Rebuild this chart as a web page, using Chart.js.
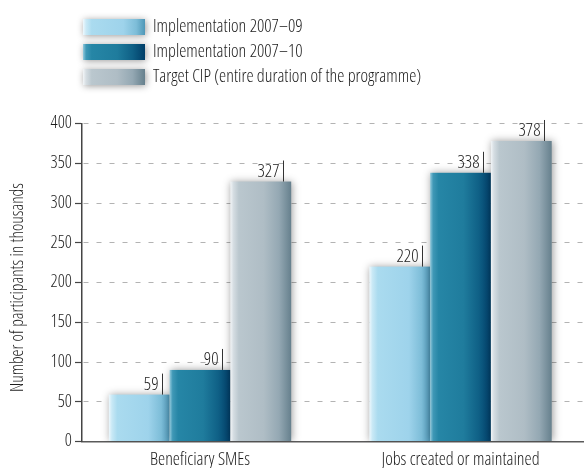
<!DOCTYPE html>
<html><head><meta charset="utf-8">
<script src="https://cdn.jsdelivr.net/npm/chart.js@4/dist/chart.umd.min.js"></script>
<style>html,body{margin:0;padding:0;background:#fff;overflow:hidden}#wrap{width:584px;height:468px;position:relative}</style>
</head><body><div id="wrap"><canvas id="c" width="584" height="468"></canvas></div>
<script>
// ---- data ----
const categories = ['Beneficiary SMEs', 'Jobs created or maintained'];
const seriesNames = ['Implementation 2007\u201309', 'Implementation 2007\u201310', 'Target CIP (entire duration of the programme)'];
const impl0709 = [59, 220];
const impl0710 = [90, 338];
const targetCIP = [327, 378];
const yTickValues = [0, 50, 100, 150, 200, 250, 300, 350, 400];
const yAxisTitle = 'Number of participants in thousands';

// ---- style ----
const FONT = '"Open Sans", "DejaVu Sans Condensed", sans-serif';
const WEIGHT = '300';
const TXT = '#1c1c1c';
const gradStops = [
  [[0,'#eef8fd'],[0.05,'#c9e9f6'],[0.14,'#aadbef'],[0.65,'#9ed3eb'],[0.86,'#7dbdd8'],[1,'#4f97b7']],
  [[0,'#93cadd'],[0.05,'#3f98b6'],[0.14,'#2686a6'],[0.55,'#1f7c9d'],[0.8,'#0f6086'],[1,'#003e68']],
  [[0,'#f2f5f7'],[0.05,'#d5dde2'],[0.14,'#bac7ce'],[0.55,'#afbdc5'],[0.8,'#94a8b3'],[1,'#66808d']]
];
const seriesData = [impl0709, impl0710, targetCIP];

function setFont(ctx, size) {
  ctx.font = WEIGHT + ' ' + size + 'px ' + FONT;
  try { ctx.fontStretch = 'condensed'; } catch (e) {}
}
function makeGrad(ctx, x0, x1, stops) {
  const g = ctx.createLinearGradient(x0, 0, x1, 0);
  stops.forEach(s => g.addColorStop(s[0], s[1]));
  return g;
}

const barPainter = {
  id: 'barPainter',
  afterDatasetsDraw(chart) {
    const ctx = chart.ctx;
    const area = chart.chartArea;
    ctx.save();
    ctx.beginPath();
    ctx.rect(area.left, 0, area.right - area.left, area.bottom);
    ctx.clip();
    chart.data.datasets.forEach((ds, di) => {
      const meta = chart.getDatasetMeta(di);
      meta.data.forEach(el => {
        const p = el.getProps(['x', 'y', 'base', 'width'], true);
        const l = p.x - p.width / 2, r = p.x + p.width / 2;
        ctx.save();
        ctx.shadowColor = 'rgba(0,0,0,0.4)';
        ctx.shadowBlur = 8;
        ctx.shadowOffsetX = 1;
        ctx.shadowOffsetY = 0;
        ctx.fillStyle = makeGrad(ctx, l, r, gradStops[di]);
        ctx.fillRect(l, p.y, r - l, p.base - p.y);
        ctx.restore();
      });
    });
    ctx.restore();
    // value labels
    ctx.save();
    chart.data.datasets.forEach((ds, di) => {
      const meta = chart.getDatasetMeta(di);
      meta.data.forEach((el, i) => {
        const p = el.getProps(['x', 'y', 'width'], true);
        const lx = Math.round(p.x + p.width / 2 - 8) + 0.5;
        ctx.strokeStyle = '#333';
        ctx.lineWidth = 1;
        ctx.beginPath();
        ctx.moveTo(lx, p.y);
        ctx.lineTo(lx, p.y - 21);
        ctx.stroke();
        ctx.fillStyle = TXT;
        setFont(ctx, 18);
        ctx.textAlign = 'right';
        ctx.textBaseline = 'alphabetic';
        ctx.fillText(String(ds.data[i].y), lx - 4, p.y - 5);
      });
    });
    ctx.restore();
  }
};

const legendPainter = {
  id: 'legendPainter',
  afterDraw(chart) {
    const ctx = chart.ctx;
    ctx.save();
    chart.data.datasets.forEach((ds, di) => {
      const top = 19 + di * 25, h = 16, l = 83, w = 62;
      ctx.save();
      ctx.shadowColor = 'rgba(0,0,0,0.4)';
      ctx.shadowBlur = 7;
      ctx.shadowOffsetX = 1;
      ctx.shadowOffsetY = 1;
      ctx.fillStyle = makeGrad(ctx, l, l + w, gradStops[di]);
      ctx.fillRect(l, top, w, h);
      ctx.restore();
      ctx.fillStyle = TXT;
      setFont(ctx, 18);
      ctx.textAlign = 'left';
      ctx.textBaseline = 'middle';
      ctx.fillText(ds.label, 153, top + h / 2);
    });
    ctx.restore();
  }
};

// y-axis title drawn through the y scale's geometry
const yTitlePainter = {
  id: 'yTitlePainter',
  afterDraw(chart) {
    const ctx = chart.ctx, ys = chart.scales.y;
    ctx.save();
    ctx.translate(18, (ys.top + ys.bottom) / 2 + 5);
    ctx.rotate(-Math.PI / 2);
    ctx.fillStyle = TXT;
    setFont(ctx, 17.5);
    ctx.textAlign = 'center';
    ctx.textBaseline = 'middle';
    ctx.fillText(yAxisTitle, 0, 0);
    ctx.restore();
  }
};

// keep condensed stretch active while Chart.js draws its tick labels
const stretchKeeper = {
  id: 'stretchKeeper',
  beforeInit(chart) {
    const ctx = chart.ctx;
    const proto = Object.getPrototypeOf(ctx);
    const desc = Object.getOwnPropertyDescriptor(proto, 'font');
    Object.defineProperty(ctx, 'font', {
      configurable: true,
      get() { return desc.get.call(this); },
      set(v) { desc.set.call(this, v); try { this.fontStretch = 'condensed'; } catch (e) {} }
    });
  }
};

const datasets = seriesNames.map((name, si) => ({
  label: name,
  data: seriesData[si].map((v, i) => ({ x: i, y: v })),
  backgroundColor: 'rgba(0,0,0,0)',
  borderWidth: 0,
  categoryPercentage: 0.7,
  barPercentage: 1
}));

new Chart(document.getElementById('c'), {
  type: 'bar',
  data: { datasets },
  plugins: [stretchKeeper, barPainter, legendPainter, yTitlePainter],
  options: {
    responsive: false,
    animation: false,
    devicePixelRatio: 1,
    layout: { padding: { top: 123.5, left: 0, right: 0, bottom: 0 } },
    plugins: { legend: { display: false }, tooltip: { enabled: false } },
    scales: {
      x: {
        type: 'linear',
        min: -0.453,
        max: 1.474,
        offset: false,
        grid: { display: false, drawTicks: false, offset: false },
        border: { display: true, color: '#5a5a5a', width: 1.5 },
        afterBuildTicks(scale) { scale.ticks = categories.map((c, i) => ({ value: i })); },
        afterFit(scale) { scale.height = 26.5; },
        ticks: {
          autoSkip: false, maxRotation: 0, padding: 8,
          color: TXT,
          font: { family: FONT, size: 18, weight: WEIGHT },
          callback: (v) => categories[v]
        }
      },
      y: {
        min: 0,
        max: 400,
        afterBuildTicks(scale) { scale.ticks = yTickValues.map(v => ({ value: v })); },
        afterFit(scale) { scale.width = 82; },
        grid: {
          color: '#b3b3b3', lineWidth: 1,
          tickColor: '#444', tickLength: 7, tickWidth: 1.2, tickBorderDash: []
        },
        border: { display: true, color: '#444', width: 1.5, dash: [5, 8], dashOffset: 12 },
        ticks: {
          padding: 3,
          color: TXT,
          font: { family: FONT, size: 17.5, weight: WEIGHT }
        },
        title: { display: false }
      }
    }
  }
});
</script>
</body></html>
